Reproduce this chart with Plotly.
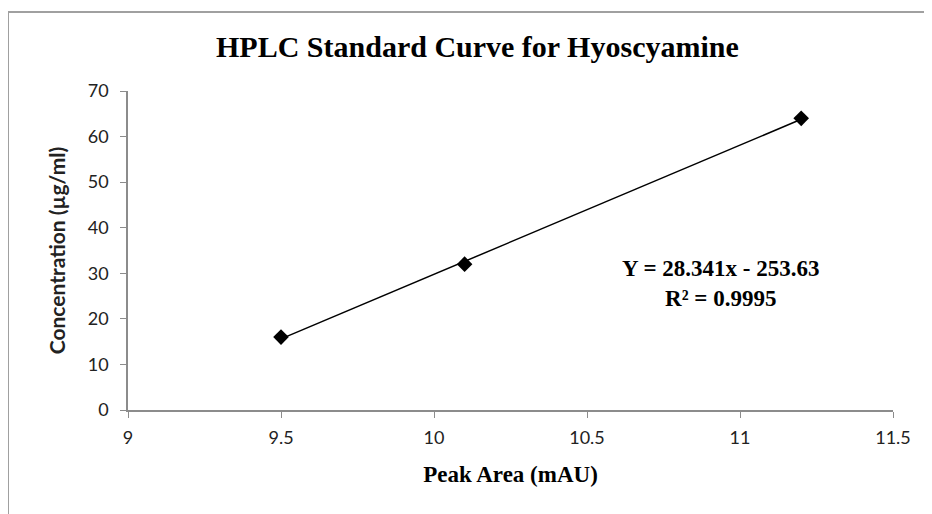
import plotly.graph_objects as go

# Data
peak_area = [9.5, 10.1, 11.2]
concentration = [16, 32, 64]
slope = 28.341
intercept = -253.63
r_squared = 0.9995
x_ticks = [9, 9.5, 10, 10.5, 11, 11.5]
x_tick_labels = ["9", "9.5", "10", "10.5", "11", "11.5"]
y_ticks = [0, 10, 20, 30, 40, 50, 60, 70]

trend_x = [min(peak_area), max(peak_area)]
trend_y = [slope * v + intercept for v in trend_x]

# page has an 8px body margin; work in screen pixels and convert
OFF = 8
SW, SH = 932, 514
W, H = SW - OFF, SH - OFF
# plot area in screen px
PX0, PX1, PY0, PY1 = 128, 893, 91, 410
L, R, T, B = PX0 - OFF, SW - PX1, PY0 - OFF, SH - PY1
pw, ph = PX1 - PX0, PY1 - PY0

def sx(px):
    return (px - PX0) / pw

def sy(py):
    return (PY1 - py) / ph

serif = "Liberation Serif, Times New Roman, serif"
sans = "Lato, Open Sans, sans-serif"

fig = go.Figure()
fig.add_trace(go.Scatter(x=trend_x, y=trend_y, mode="lines",
                         line=dict(color="black", width=1.5), hoverinfo="skip",
                         showlegend=False))
fig.add_trace(go.Scatter(x=peak_area, y=concentration, mode="markers",
                         marker=dict(symbol="diamond", size=12, color="black"),
                         showlegend=False))

fig.add_annotation(x=sx(721), y=sy(283), xref="paper", yref="paper",
                   text=f"<b>Y = {slope}x - {abs(intercept)}</b><br><b>R² = {r_squared}</b>",
                   showarrow=False, align="center", xanchor="center", yanchor="middle",
                   font=dict(family=serif, size=23, color="black"))

fig.add_annotation(x=sx(477), y=sy(47), xref="paper", yref="paper",
                   text="<b>HPLC Standard Curve for Hyoscyamine</b>",
                   showarrow=False, xanchor="center", yanchor="middle",
                   font=dict(family=serif, size=30, color="black"))

# chart border (top and left visible)
fig.add_shape(type="line", xref="paper", yref="paper",
              x0=sx(8), x1=sx(945), y0=sy(12), y1=sy(12),
              line=dict(color="#a0a0a0", width=2))
fig.add_shape(type="line", xref="paper", yref="paper",
              x0=sx(8), x1=sx(8), y0=sy(12), y1=sy(530),
              line=dict(color="#a0a0a0", width=2))

fig.update_layout(
    width=W, height=H,
    margin=dict(l=L, r=R, t=T, b=B),
    paper_bgcolor="white", plot_bgcolor="white",
    xaxis=dict(range=[9, 11.5], tickvals=x_ticks, ticktext=x_tick_labels,
               showgrid=False, zeroline=False, showline=True, linecolor="#8c8c8c", linewidth=1.5,
               ticks="outside", ticklen=6, tickcolor="#8c8c8c",
               ticklabelstandoff=5,
               tickfont=dict(family=sans, size=18, color="#222"),
               title=dict(text="<b>Peak Area (mAU)</b>", font=dict(family=serif, size=23, color="black"),
                          standoff=19)),
    yaxis=dict(range=[0, 70], tickvals=y_ticks,
               showgrid=False, zeroline=False, showline=True, linecolor="#8c8c8c", linewidth=1.5,
               ticks="outside", ticklen=6, tickcolor="#8c8c8c",
               ticklabelstandoff=8,
               tickfont=dict(family=sans, size=18, color="#222"),
               title=dict(text="<b>Concentration (µg/ml)</b>", font=dict(family=sans, size=21, color="#222"),
                          standoff=16)),
)

fig.write_html("out.html")
